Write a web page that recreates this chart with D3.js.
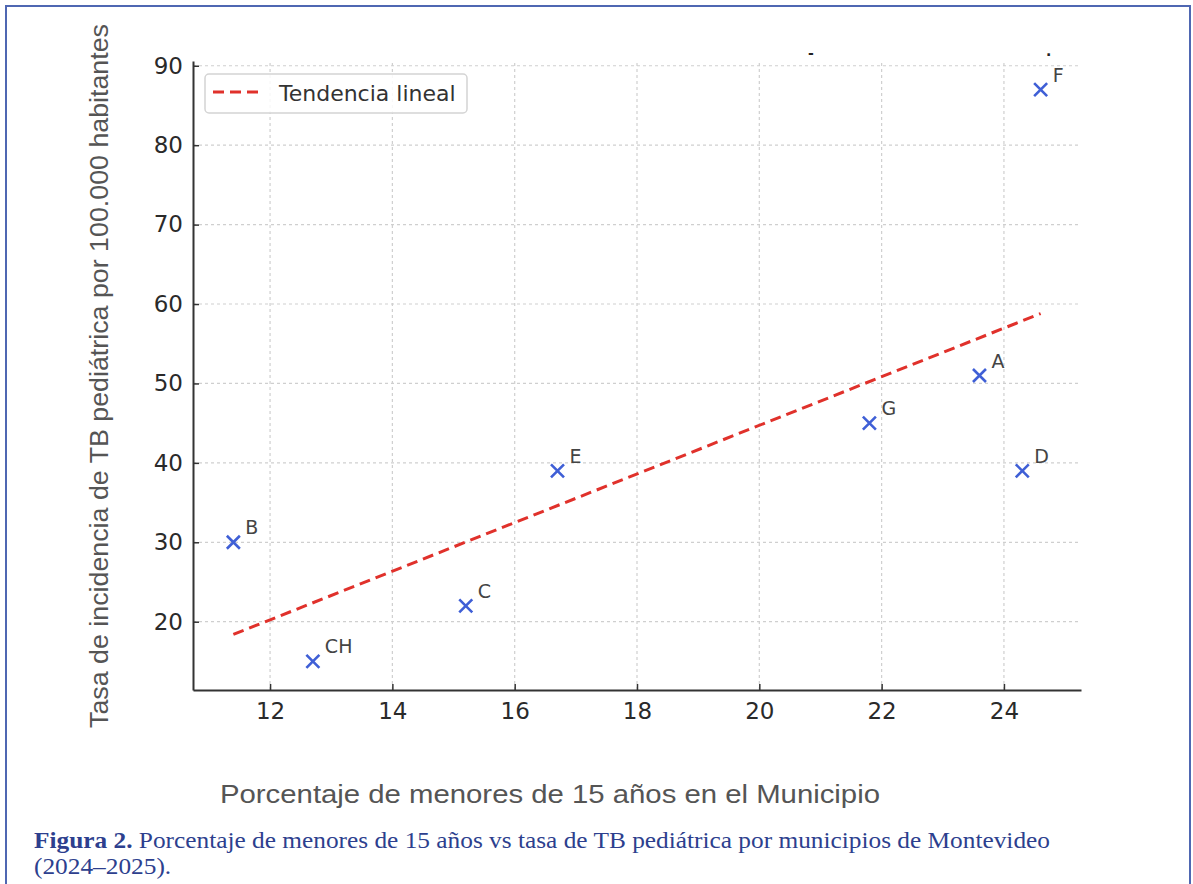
<!DOCTYPE html>
<html>
<head>
<meta charset="utf-8">
<script src="https://cdn.jsdelivr.net/npm/d3@7"></script>
<style>
  html, body { margin: 0; padding: 0; background: #fff; }
  svg { display: block; }
</style>
</head>
<body>
<div id="my_scatterplot"></div>
<script>
// data
const municipios = ["B", "CH", "C", "E", "G", "A", "D", "F"];
const pctMenores = [11.4, 12.7, 15.2, 16.7, 21.8, 23.6, 24.3, 24.6];
const tasaTB = [30, 15, 22, 39, 45, 51, 39, 87];

// linear trend end points
const trendX = [11.4, 24.6];
const trendY = [18.4, 58.8];

const xTicks = [12, 14, 16, 18, 20, 22, 24];
const yTicks = [20, 30, 40, 50, 60, 70, 80, 90];

const xLabel = "Porcentaje de menores de 15 años en el Municipio";
const yLabel = "Tasa de incidencia de TB pediátrica por 100.000 habitantes";
const legendLabel = "Tendencia lineal";
const captionBold = "Figura 2.";
const captionLine1 = " Porcentaje de menores de 15 años vs tasa de TB pediátrica por municipios de Montevideo";
const captionLine2 = "(2024–2025).";

var W = 1193, H = 884;
var margin = { left: 193, right: 112, top: 61, bottom: 194 };

var svg = d3.select("#my_scatterplot")
  .append("svg")
  .attr("width", W)
  .attr("height", H);

// outer frame
svg.append("rect")
  .attr("x", 6).attr("y", 6)
  .attr("width", 1184).attr("height", H + 20)
  .attr("fill", "none")
  .attr("stroke", "#4f67b2")
  .attr("stroke-width", 2);

var x = d3.scaleLinear()
  .domain([10.74, 25.26])
  .range([margin.left, W - margin.right]);

var y = d3.scaleLinear()
  .domain([11.4, 90.6])
  .range([H - margin.bottom, margin.top]);

var gridColor = "#cfcfcf";

// grid
svg.append("g")
  .selectAll("line")
  .data(xTicks)
  .enter()
  .append("line")
  .attr("x1", d => x(d)).attr("x2", d => x(d))
  .attr("y1", y.range()[0]).attr("y2", y.range()[1])
  .attr("stroke", gridColor)
  .attr("stroke-width", 1.2)
  .attr("stroke-dasharray", "3,3");

svg.append("g")
  .selectAll("line")
  .data(yTicks)
  .enter()
  .append("line")
  .attr("x1", x.range()[0]).attr("x2", x.range()[1])
  .attr("y1", d => y(d)).attr("y2", d => y(d))
  .attr("stroke", gridColor)
  .attr("stroke-width", 1.2)
  .attr("stroke-dasharray", "3,3");

// axes (inward ticks, left + bottom spines only)
var xAxis = svg.append("g")
  .attr("transform", "translate(0," + y.range()[0] + ")")
  .call(d3.axisBottom(x).tickValues(xTicks).tickSizeInner(-6).tickSizeOuter(0).tickPadding(13));

var yAxis = svg.append("g")
  .attr("transform", "translate(" + x.range()[0] + ",0)")
  .call(d3.axisLeft(y).tickValues(yTicks).tickSizeInner(-6).tickSizeOuter(0).tickPadding(10));

[xAxis, yAxis].forEach(function (g) {
  g.select(".domain").attr("stroke", "#333").attr("stroke-width", 2);
  g.selectAll(".tick line").attr("stroke", "#333").attr("stroke-width", 1.5);
  g.selectAll(".tick text")
    .attr("fill", "#2a2a2a")
    .style("font-family", "DejaVu Sans, sans-serif")
    .style("font-size", "23px");
});

// trend line
var line = d3.line()
  .x(d => x(d[0]))
  .y(d => y(d[1]));

svg.append("path")
  .datum(d3.zip(trendX, trendY))
  .attr("d", line)
  .attr("fill", "none")
  .attr("stroke", "#e0312b")
  .attr("stroke-width", 3)
  .attr("stroke-dasharray", "11,6");

// points as x markers
var pts = d3.zip(pctMenores, tasaTB, municipios);
var s = 6.5;

var marks = svg.append("g")
  .selectAll("g")
  .data(pts)
  .enter()
  .append("g")
  .attr("transform", d => "translate(" + x(d[0]) + "," + y(d[1]) + ")");

marks.append("path")
  .attr("d", "M" + -s + "," + -s + "L" + s + "," + s + "M" + -s + "," + s + "L" + s + "," + -s)
  .attr("stroke", "#3f5fd6")
  .attr("stroke-width", 2.6)
  .attr("fill", "none");

marks.append("text")
  .attr("x", 12)
  .attr("y", -8)
  .attr("fill", "#444")
  .style("font-family", "DejaVu Sans, sans-serif")
  .style("font-size", "19px")
  .text(d => d[2]);

// legend
var lg = svg.append("g");
lg.append("rect")
  .attr("x", 205).attr("y", 74)
  .attr("width", 262).attr("height", 39)
  .attr("rx", 4)
  .attr("fill", "#fff")
  .attr("fill-opacity", 0.85)
  .attr("stroke", "#d4d4d4")
  .attr("stroke-width", 1.5);
lg.append("line")
  .attr("x1", 213).attr("x2", 260)
  .attr("y1", 92).attr("y2", 92)
  .attr("stroke", "#e0312b")
  .attr("stroke-width", 3)
  .attr("stroke-dasharray", "11,6");
lg.append("text")
  .attr("x", 279).attr("y", 101)
  .attr("fill", "#333")
  .style("font-family", "DejaVu Sans, sans-serif")
  .style("font-size", "22px")
  .text(legendLabel);

// small stray marks above the plot
svg.append("text").attr("x", 808).attr("y", 58).attr("fill", "#222")
  .style("font-family", "DejaVu Sans").style("font-size", "14px").style("font-weight", "bold").text("-");
svg.append("text").attr("x", 1046).attr("y", 56).attr("fill", "#222")
  .style("font-family", "DejaVu Sans").style("font-size", "14px").style("font-weight", "bold").text(".");

// axis titles
svg.append("text")
  .attr("transform", "translate(108,376) rotate(-90)")
  .attr("text-anchor", "middle")
  .attr("fill", "#555")
  .attr("textLength", 704)
  .attr("lengthAdjust", "spacingAndGlyphs")
  .style("font-family", "Liberation Sans, Arial, sans-serif")
  .style("font-size", "25px")
  .text(yLabel);

svg.append("text")
  .attr("x", 550).attr("y", 803)
  .attr("text-anchor", "middle")
  .attr("fill", "#555")
  .attr("textLength", 660)
  .attr("lengthAdjust", "spacingAndGlyphs")
  .style("font-family", "Liberation Sans, Arial, sans-serif")
  .style("font-size", "26px")
  .text(xLabel);

// caption
var cap = svg.append("g")
  .style("font-family", "Liberation Serif, serif")
  .style("font-size", "23px")
  .attr("fill", "#2d3f8e");

var t1 = cap.append("text").attr("x", 34).attr("y", 848);
t1.append("tspan").style("font-weight", "bold").text(captionBold);
t1.append("tspan").text(captionLine1);

var t2 = cap.append("text").attr("x", 34).attr("y", 874).text(captionLine2);

// stretch caption to the width it has in the figure
var len1 = t1.node().getComputedTextLength();
var k = 1016 / len1;
t1.attr("textLength", 1016).attr("lengthAdjust", "spacingAndGlyphs");
t2.attr("textLength", t2.node().getComputedTextLength() * k).attr("lengthAdjust", "spacingAndGlyphs");
</script>
</body>
</html>
